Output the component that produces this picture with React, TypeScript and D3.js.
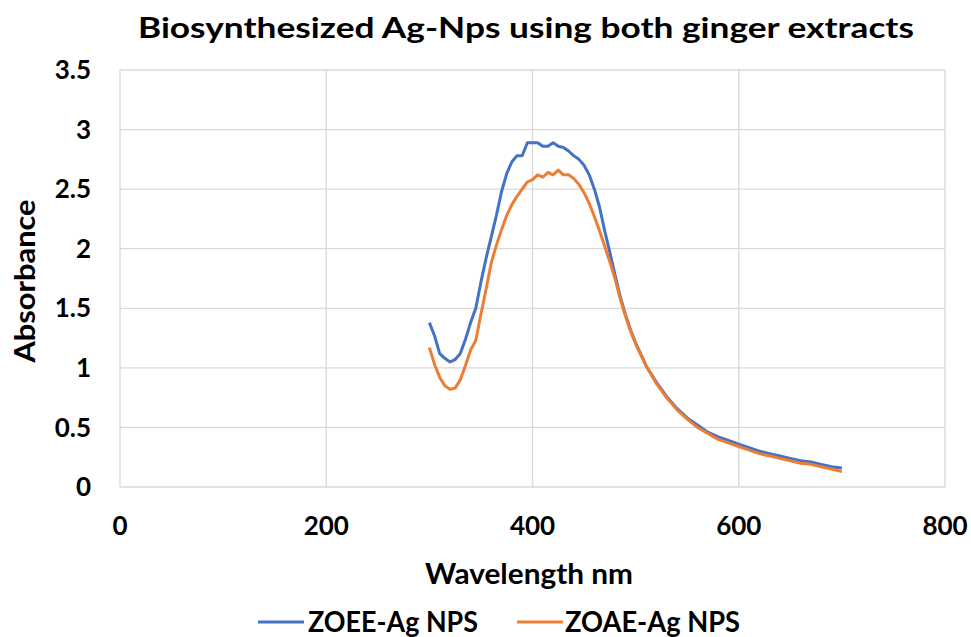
import React from "react";
import * as d3 from "d3";

const wavelengths = [300,305,310,315,320,325,330,335,340,345,350,355,360,365,370,375,380,385,390,395,400,405,410,415,420,425,430,435,440,445,450,455,460,465,470,475,480,485,490,495,500,510,520,530,540,550,560,570,580,590,600,610,620,630,640,650,660,670,680,690,700];

const zoeeValues = [1.38,1.27,1.12,1.08,1.05,1.07,1.12,1.24,1.38,1.50,1.72,1.92,2.10,2.28,2.48,2.63,2.73,2.78,2.78,2.89,2.89,2.89,2.86,2.86,2.89,2.86,2.85,2.82,2.78,2.75,2.70,2.62,2.50,2.35,2.15,1.97,1.78,1.60,1.45,1.32,1.21,1.02,0.88,0.76,0.66,0.58,0.52,0.46,0.42,0.39,0.36,0.33,0.30,0.28,0.26,0.24,0.22,0.21,0.19,0.17,0.16];

const zoaeValues = [1.17,1.03,0.92,0.85,0.82,0.83,0.90,1.02,1.15,1.23,1.45,1.66,1.88,2.03,2.16,2.28,2.37,2.44,2.50,2.56,2.58,2.62,2.60,2.64,2.62,2.66,2.62,2.62,2.59,2.54,2.47,2.38,2.27,2.15,2.02,1.89,1.75,1.58,1.44,1.31,1.20,1.02,0.87,0.75,0.65,0.57,0.50,0.45,0.40,0.37,0.34,0.31,0.28,0.26,0.24,0.22,0.20,0.19,0.17,0.15,0.13];

const xTicks = [0, 200, 400, 600, 800];
const yTicks = [0, 0.5, 1, 1.5, 2, 2.5, 3, 3.5];
const seriesNames = ["ZOEE-Ag NPS", "ZOAE-Ag NPS"];
const seriesColors = ["#4472C4", "#ED7D31"];

const W = 971, H = 637;
const FONT = "Lato, 'Open Sans', sans-serif";

export default function App() {
  const x = d3.scaleLinear().domain([0, 800]).range([120, 945]);
  const y = d3.scaleLinear().domain([0, 3.5]).range([487, 70]);
  const series = [zoeeValues, zoaeValues];
  const line = d3.line<[number, number]>().x(d => x(d[0])).y(d => y(d[1]));
  const legend = [
    { lx: 258, tx: 308, len: 170 },
    { lx: 517, tx: 565, len: 175 },
  ];

  return (
    <svg width={W} height={H} style={{ position: "absolute", left: 0, top: 0, background: "#fff" }}>
      <rect width={W} height={H} fill="#fff" />
      <text x={526} y={38} textAnchor="middle" fontFamily={FONT} fontWeight={700} fontSize={29}
        textLength={776} lengthAdjust="spacingAndGlyphs" fill="#000">
        Biosynthesized Ag-Nps using both ginger extracts
      </text>
      {yTicks.map(t => (
        <line key={"gy" + t} x1={x(0)} x2={x(800)} y1={y(t)} y2={y(t)} stroke="#d9d9d9" strokeWidth={1.3} />
      ))}
      {xTicks.map(t => (
        <line key={"gx" + t} x1={x(t)} x2={x(t)} y1={y(0)} y2={y(3.5)} stroke="#d9d9d9" strokeWidth={1.3} />
      ))}
      {series.map((vals, i) => (
        <path key={"s" + i} d={line(wavelengths.map((w, j) => [w, vals[j]]) as [number, number][]) || ""}
          fill="none" stroke={seriesColors[i]} strokeWidth={3} strokeLinejoin="round" />
      ))}
      {yTicks.map(t => (
        <text key={"ty" + t} x={91} y={y(t)} dy="0.35em" textAnchor="end" fontFamily={FONT} fontWeight={700} fontSize={26} fill="#000">
          {String(t)}
        </text>
      ))}
      {xTicks.map(t => (
        <text key={"tx" + t} x={x(t)} y={526} dy="0.35em" textAnchor="middle" fontFamily={FONT} fontWeight={700} fontSize={26} fill="#000">
          {String(t)}
        </text>
      ))}
      <text x={529} y={574} dy="0.35em" textAnchor="middle" fontFamily={FONT} fontWeight={700} fontSize={28}
        textLength={208} lengthAdjust="spacingAndGlyphs" fill="#000">
        Wavelength nm
      </text>
      <text transform={`translate(25,${281}) rotate(-90)`} dy="0.35em" textAnchor="middle" fontFamily={FONT} fontWeight={700} fontSize={28}
        textLength={163} lengthAdjust="spacingAndGlyphs" fill="#000">
        Absorbance
      </text>
      {seriesNames.map((n, i) => (
        <g key={"lg" + i}>
          <line x1={legend[i].lx} x2={legend[i].lx + 46} y1={622} y2={622} stroke={seriesColors[i]} strokeWidth={3} />
          <text x={legend[i].tx} y={622} dy="0.35em" fontFamily={FONT} fontWeight={700} fontSize={28}
            textLength={legend[i].len} lengthAdjust="spacingAndGlyphs" fill="#000">{n}</text>
        </g>
      ))}
    </svg>
  );
}
